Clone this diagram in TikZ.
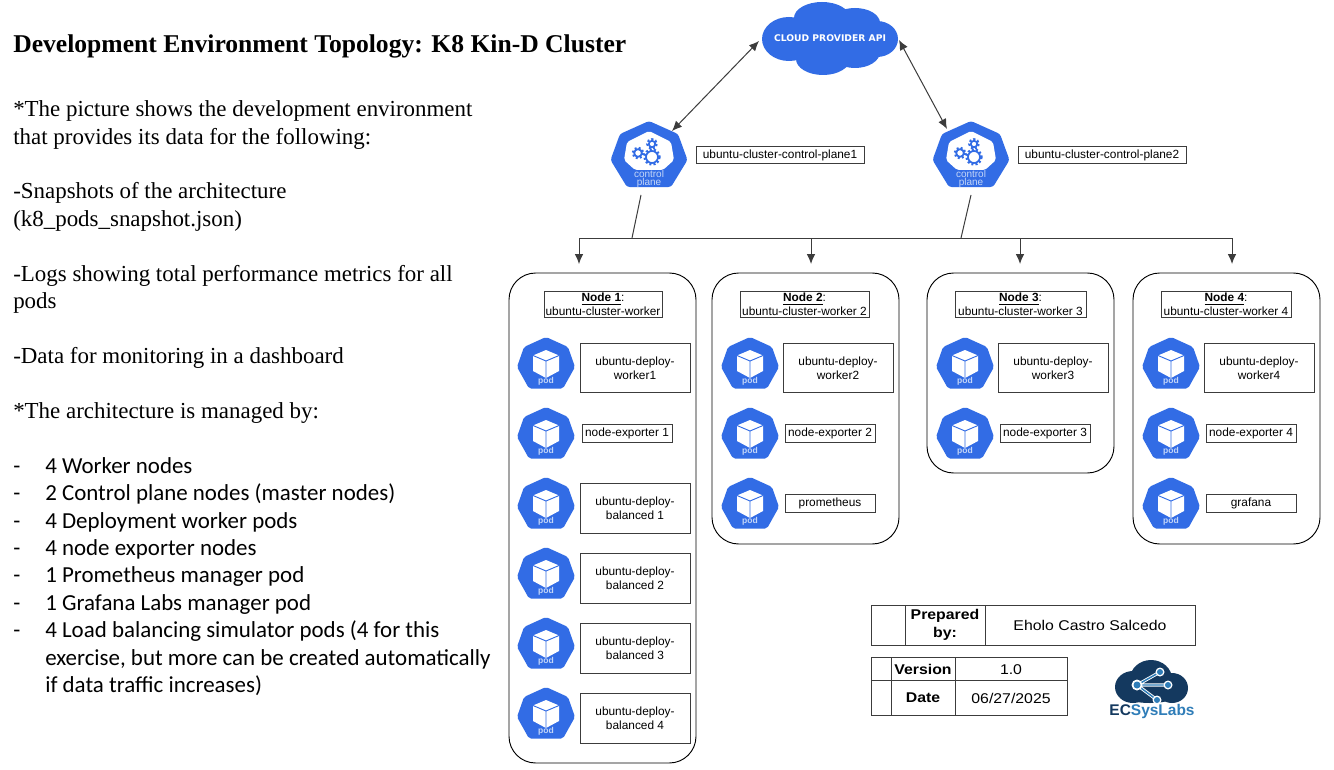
\documentclass[tikz,border=0pt]{standalone}
\usepackage{fontspec}
\setmainfont{Liberation Serif}
\setsansfont{Liberation Sans}
\newfontfamily\calibrifont{Carlito}
\newfontfamily\dejabold{DejaVu Sans}
\newfontfamily\widesans[FakeStretch=1.12]{Liberation Sans}
\usetikzlibrary{arrows.meta}
\definecolor{kblue}{HTML}{326CE5}
\definecolor{kpale}{HTML}{C4D6F8}
\definecolor{lline}{HTML}{3C3C3C}
\definecolor{navy}{HTML}{14395F}
\definecolor{lblue}{HTML}{2F7DB8}
\tikzset{
  x=0.75pt,y=-0.75pt,
  bodytext/.style={anchor=west,inner sep=0pt,font=\fontsize{17.2}{19}\selectfont},
  listtext/.style={anchor=west,inner sep=0pt,font=\calibrifont\fontsize{17.2}{19}\selectfont},
  titletext/.style={anchor=west,inner sep=0pt,font=\bfseries\fontsize{19.2}{22}\selectfont},
  labelbox/.style={draw=lline,line width=0.75pt,fill=white,align=center,inner sep=0pt,
     font=\sffamily\fontsize{8.9}{10.2}\selectfont,text=black},
  workerbox/.style={draw=black,line width=0.7pt,rounded corners=20pt},
  cellline/.style={draw=lline,line width=0.75pt},
  celltext/.style={inner sep=0pt,align=center,font=\widesans\fontsize{10.6}{13}\selectfont,text=black},
  cellbold/.style={inner sep=0pt,align=center,font=\widesans\bfseries\fontsize{10.6}{13}\selectfont,text=black},
  link/.style={draw=lline,line width=0.75pt},
  twoway/.style={link,{Latex[length=7.5pt,width=6.5pt]}-{Latex[length=7.5pt,width=6.5pt]}},
  oneway/.style={link,-{Latex[length=7.5pt,width=6.5pt]}},
  gearline/.style={draw=kblue,line width=1.3pt},
  pics/podicon/.style={code={
    \fill[kblue,rounded corners=1.5pt] (0,-26)--(22,-16)--(29,4)--(17,25.5)--(-17,25.5)--(-29,4)--(-22,-16)--cycle;
    \fill[white] (0,-13)--(13,-7.5)--(13,8)--(0,15)--(-13,8)--(-13,-7.5)--cycle;
    \draw[kblue,line width=0.7pt] (-13,-7.5)--(0,-2)--(13,-7.5) (0,-2)--(0,15);
    \node[inner sep=0pt,text=kpale,font=\sffamily\bfseries\fontsize{6.4}{7}\selectfont] (-t) at (0,18.5) {pod};
  }},
  pics/cpicon/.style={code={
    \fill[kblue,rounded corners=2pt] (0,-34)--(29,-21)--(38.5,5)--(22,32)--(-22,32)--(-38.5,5)--(-29,-21)--cycle;
    \fill[white,rounded corners=1.5pt] (0,-24)--(22,-13)--(25,5)--(14,15)--(-14,15)--(-25,5)--(-22,-13)--cycle;
    \foreach \gx/\gy/\gr in {3/2/6,-11/-2/3.8,3/-11/3.2}{
      \draw[kblue,line width=2pt,dash pattern=on 1.5pt off 1.5pt] (\gx,\gy) circle[radius=\gr+1.3];
      \draw[gearline] (\gx,\gy) circle[radius=\gr];
    }
    \node[inner sep=0pt,text=kpale,align=center,font=\sffamily\fontsize{7.5}{6}\selectfont] (-t) at (0,24) {control\\plane};
  }}
}
\newcommand{\lbox}[6]{% name x1 y1 x2 y2 text
  \pgfmathsetmacro{\bw}{(#4-#2)*0.75}\pgfmathsetmacro{\bh}{(#5-#3)*0.75}
  \node[labelbox,minimum width=\bw pt,minimum height=\bh pt] (#1) at ({(#2+#4)/2},{(#3+#5)/2+0.5}) {#6};}
\newcommand{\wcont}[5]{% name x1 y1 x2 y2
  \path[workerbox,name=#1] (#2,#3) rectangle (#4,#5);
  \coordinate (#1top) at ({(#2+#4)/2},#3);}
\begin{document}
\begin{tikzpicture}
\useasboundingbox (0,0) rectangle (1334,770);
\fill[white] (0,0) rectangle (1334,770);
% left text
\node[titletext] (title) at (13,46) {Development Environment Topology: K8 Kin-D Cluster};
\node[bodytext] (t1) at (13,111) {*The picture shows the development environment};
\node[bodytext] (t2) at (13,139) {that provides its data for the following:};
\node[bodytext] (t3) at (13,193) {-Snapshots of the architecture};
\node[bodytext] (t4) at (13,221) {(k8\_pods\_snapshot.json)};
\node[bodytext] (t5) at (13,276) {-Logs showing total performance metrics for all};
\node[bodytext] (t6) at (13,303) {pods};
\node[bodytext] (t7) at (13,358) {-Data for monitoring in a dashboard};
\node[bodytext] (t8) at (13,413) {*The architecture is managed by:};
\foreach \yy/\tt in {466/4 Worker nodes,493/2 Control plane nodes (master nodes),521/4 Deployment worker pods,548/4 node exporter nodes,575/1 Prometheus manager pod,603/1 Grafana Labs manager pod,630/4 Load balancing simulator pods (4 for this}{
  \node[listtext,anchor=base west] (d\yy) at (13,\yy+7) {-};
  \node[listtext,anchor=base west] (l\yy) at (45,\yy+7) {\tt};
}
\node[listtext,anchor=base west] (l658) at (45,665) {exercise, but more can be created automatically};
\node[listtext,anchor=base west] (l685) at (45,692) {if data traffic increases)};
% cloud
\fill[kblue] (789,39) ellipse[x radius=27,y radius=22]
  (822,18) ellipse[x radius=28,y radius=16]
  (855,23) ellipse[x radius=25,y radius=15]
  (877,39) ellipse[x radius=21,y radius=18]
  (823,59) ellipse[x radius=27,y radius=16]
  (855,52) ellipse[x radius=25,y radius=16]
  (830,38) ellipse[x radius=50,y radius=25];
\node[inner sep=0pt,text=white,font=\dejabold\bfseries\fontsize{6.9}{8}\selectfont] (cloud) at (830,38) {CLOUD PROVIDER API};
\coordinate (cloudL) at (759,41);
\coordinate (cloudR) at (899,40);
% control planes
\pic (cpa) at (649,155) {cpicon};
\pic (cpb) at (971,155) {cpicon};
\coordinate (cpaT) at (672,131);
\coordinate (cpbT) at (947,129);
\coordinate (cpaB) at (641,195);
\coordinate (cpbB) at (971,195);
\lbox{cpalabel}{696}{146}{864}{163}{ubuntu-cluster-control-plane1}
\lbox{cpblabel}{1018}{146}{1186}{163}{ubuntu-cluster-control-plane2}
\draw[twoway] (cloudL) -- (cpaT);
\draw[twoway] (cloudR) -- (cpbT);
% bus
\coordinate (busA) at (632,238);
\coordinate (busB) at (961,238);
\coordinate (bus1) at (579,238);
\coordinate (bus2) at (811,238);
\coordinate (bus3) at (1020,238);
\coordinate (bus4) at (1232,238);
\coordinate (arr1) at (579,264);
\coordinate (arr2) at (811,264);
\coordinate (arr3) at (1020,264);
\coordinate (arr4) at (1232,264);
\draw[link] (cpaB) -- (busA);
\draw[link] (cpbB) -- (busB);
\draw[link] (bus1) -- (bus4);
\draw[oneway] (bus1) -- (arr1);
\draw[oneway] (bus2) -- (arr2);
\draw[oneway] (bus3) -- (arr3);
\draw[oneway] (bus4) -- (arr4);
% workers
\wcont{wa}{509}{273}{696}{763}
\wcont{wb}{712}{273}{899}{544}
\wcont{wc}{927}{273}{1114}{473}
\wcont{wd}{1133}{273}{1320}{544}
\lbox{ha}{544}{291}{662}{317}{\underline{\textbf{Node 1}}:\\ubuntu-cluster-worker}
\lbox{hb}{740}{291}{869}{317}{\underline{\textbf{Node 2}}:\\ubuntu-cluster-worker 2}
\lbox{hc}{955}{291}{1086}{317}{\underline{\textbf{Node 3}}:\\ubuntu-cluster-worker 3}
\lbox{hd}{1161}{291}{1291}{317}{\underline{\textbf{Node 4}}:\\ubuntu-cluster-worker 4}
% pods node 1
\foreach \yy [count=\i] in {363,433,503,573,643,713}{ \pic (pa\i) at (546,\yy) {podicon}; }
\foreach \yy [count=\i] in {363,433,503}{ \pic (pb\i) at (750,\yy) {podicon}; }
\foreach \yy [count=\i] in {363,433}{ \pic (pc\i) at (965,\yy) {podicon}; }
\foreach \yy [count=\i] in {363,433,503}{ \pic (pd\i) at (1171,\yy) {podicon}; }
\lbox{a1}{580}{343}{690}{392}{ubuntu-deploy-\\worker1}
\lbox{a2}{582}{424}{672}{442}{node-exporter 1}
\lbox{a3}{580}{483}{690}{533}{ubuntu-deploy-\\balanced 1}
\lbox{a4}{580}{553}{690}{603}{ubuntu-deploy-\\balanced 2}
\lbox{a5}{580}{623}{690}{673}{ubuntu-deploy-\\balanced 3}
\lbox{a6}{580}{693}{690}{743}{ubuntu-deploy-\\balanced 4}
\lbox{b1}{783}{343}{893}{392}{ubuntu-deploy-\\worker2}
\lbox{b2}{785}{424}{875}{442}{node-exporter 2}
\lbox{b3}{785}{494}{875}{512}{prometheus}
\lbox{c1}{998}{343}{1108}{392}{ubuntu-deploy-\\worker3}
\lbox{c2}{1000}{424}{1090}{442}{node-exporter 3}
\lbox{d1}{1204}{343}{1314}{392}{ubuntu-deploy-\\worker4}
\lbox{d2}{1206}{424}{1296}{442}{node-exporter 4}
\lbox{d3}{1206}{494}{1296}{512}{grafana}
% tables
\draw[cellline] (871,605) rectangle (1195,645) (905,605)--(905,645) (985,605)--(985,645);
\node[cellbold] (prep) at (945,625) {Prepared\\by:};
\node[celltext] (author) at (1090,625) {Eholo Castro Salcedo};
\draw[cellline] (871,657) rectangle (1067,715) (891,657)--(891,715) (955,657)--(955,715) (871,680)--(1067,680);
\node[cellbold] (verk) at (923,669) {Version};
\node[celltext] (verv) at (1011,670) {1.0};
\node[cellbold] (datek) at (923,698) {Date};
\node[celltext] (datev) at (1011,698) {06/27/2025};
% logo
\fill[navy] (1133,687) ellipse[x radius=18,y radius=16]
  (1151,679) ellipse[x radius=21,y radius=19]
  (1172,688) ellipse[x radius=16,y radius=15]
  (1150,693) ellipse[x radius=30,y radius=10];
\draw[white,line width=2.4pt] (1137,685)--(1160,672) (1137,685)--(1168,685) (1137,685)--(1157,700);
\draw[lblue,line width=1.1pt] (1137,685)--(1160,672) (1137,685)--(1168,685) (1137,685)--(1157,700);
\fill[white] (1137,685) circle[radius=5.5] (1160,672) circle[radius=4.5] (1168,685) circle[radius=4.5] (1157,700) circle[radius=4.5];
\fill[lblue] (1137,685) circle[radius=3.5] (1160,672) circle[radius=3] (1168,685) circle[radius=3] (1157,700) circle[radius=3];
\node[inner sep=0pt,font=\sffamily\bfseries\fontsize{11.6}{14}\selectfont] (logo) at (1152,711) {\textcolor{navy}{EC}\textcolor{lblue}{Sys}\textcolor{lblue}{Labs}};
\end{tikzpicture}
\end{document}
